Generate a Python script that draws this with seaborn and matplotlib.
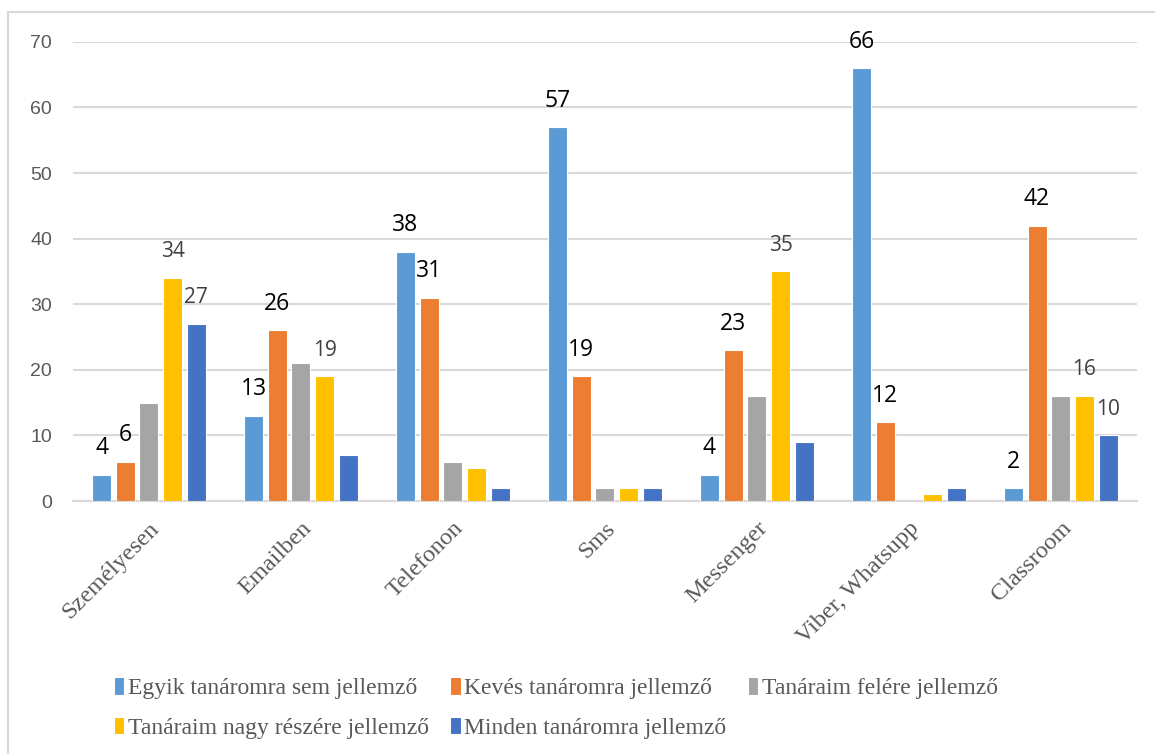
import numpy as np
import pandas as pd
import matplotlib.pyplot as plt
import seaborn as sns
from matplotlib.patches import Rectangle

# Data
categories = ["Személyesen", "Emailben", "Telefonon", "Sms", "Messenger",
              "Viber, Whatsupp", "Classroom"]
series_names = ["Egyik tanáromra sem jellemző", "Kevés tanáromra jellemző",
                "Tanáraim felére jellemző", "Tanáraim nagy részére jellemző",
                "Minden tanáromra jellemző"]
egyik = [4, 13, 38, 57, 4, 66, 2]
keves = [6, 26, 31, 19, 23, 12, 42]
felere = [15, 21, 6, 2, 16, 0, 16]
nagy_resze = [34, 19, 5, 2, 35, 1, 16]
minden = [27, 7, 2, 2, 9, 2, 10]

# which bars carry a data label: 1 = dark label, 2 = grey label, 0 = none
label_egyik = [1, 1, 1, 1, 1, 1, 1]
label_keves = [1, 1, 1, 1, 1, 1, 1]
label_felere = [0, 0, 0, 0, 0, 0, 0]
label_nagy = [2, 2, 0, 0, 2, 0, 2]
label_minden = [2, 0, 0, 0, 0, 0, 2]

colors = ["#5B9BD5", "#ED7D31", "#A5A5A5", "#FFC000", "#4472C4"]

values = [egyik, keves, felere, nagy_resze, minden]
label_flags = [label_egyik, label_keves, label_felere, label_nagy, label_minden]

df = pd.DataFrame({
    "Kategória": np.tile(categories, len(series_names)),
    "Érték": np.concatenate(values),
    "Sorozat": np.repeat(series_names, len(categories)),
})

sns.set_theme(style="white")
plt.rcParams["font.family"] = ["Liberation Sans", "DejaVu Sans"]

fig = plt.figure(figsize=(11.55, 7.54), dpi=100)
ax = fig.add_axes([0.0632, 0.3355, 0.921, 0.609])

sns.barplot(data=df, x="Kategória", y="Érték", hue="Sorozat",
            palette=colors, saturation=1, width=0.78, gap=0.2,
            edgecolor="white", linewidth=0.8, ax=ax, zorder=3)

ax.set_ylim(0, 70)
ax.set_yticks(range(0, 71, 10))
ax.yaxis.grid(True, color="#D9D9D9", linewidth=1.5, zorder=0)
ax.set_xlabel("")
ax.set_ylabel("")
for side in ["top", "right", "left"]:
    ax.spines[side].set_visible(False)
ax.spines["bottom"].set_color("#D9D9D9")
ax.spines["bottom"].set_linewidth(1.5)
ax.tick_params(axis="both", length=0)
ax.tick_params(axis="y", labelsize=14, labelcolor="#595959", pad=15)
ax.set_xlim(-0.5, len(categories) - 0.5)

plt.setp(ax.get_xticklabels(), rotation=45, ha="right", rotation_mode="anchor",
         family="Liberation Serif", fontsize=17.5, color="#595959")
ax.tick_params(axis="x", pad=12)

# data labels
for container, vals, flags in zip(ax.containers, values, label_flags):
    for bar, v, f in zip(container, vals, flags):
        if not f:
            continue
        x = bar.get_x() + bar.get_width() / 2
        color = "black" if f == 1 else "#404040"
        size = 16.5 if f == 1 else 15
        ax.annotate(str(v), (x, v), xytext=(0, 19), textcoords="offset points",
                    ha="center", va="center", fontsize=size, color=color,
                    family="Open Sans")

# legend: row-major order across three columns
handles, labels = ax.get_legend_handles_labels()
ax.legend_.remove()
order = [0, 3, 1, 4, 2]
fig.legend([handles[i] for i in order], [labels[i] for i in order],
           ncol=3, loc="upper left", bbox_to_anchor=(0.08, 0.13),
           frameon=False, handlelength=0.45, handleheight=0.75,
           handletextpad=0.15, columnspacing=0.9, labelspacing=0.75,
           prop={"family": "Liberation Serif", "size": 17}, labelcolor="#595959")

# outer chart border
fig.patches.append(Rectangle((0.007, -0.01), 1.0, 0.994, transform=fig.transFigure,
                             fill=False, edgecolor="#D9D9D9", linewidth=1.5))

fig.savefig("out.png", dpi=100)
